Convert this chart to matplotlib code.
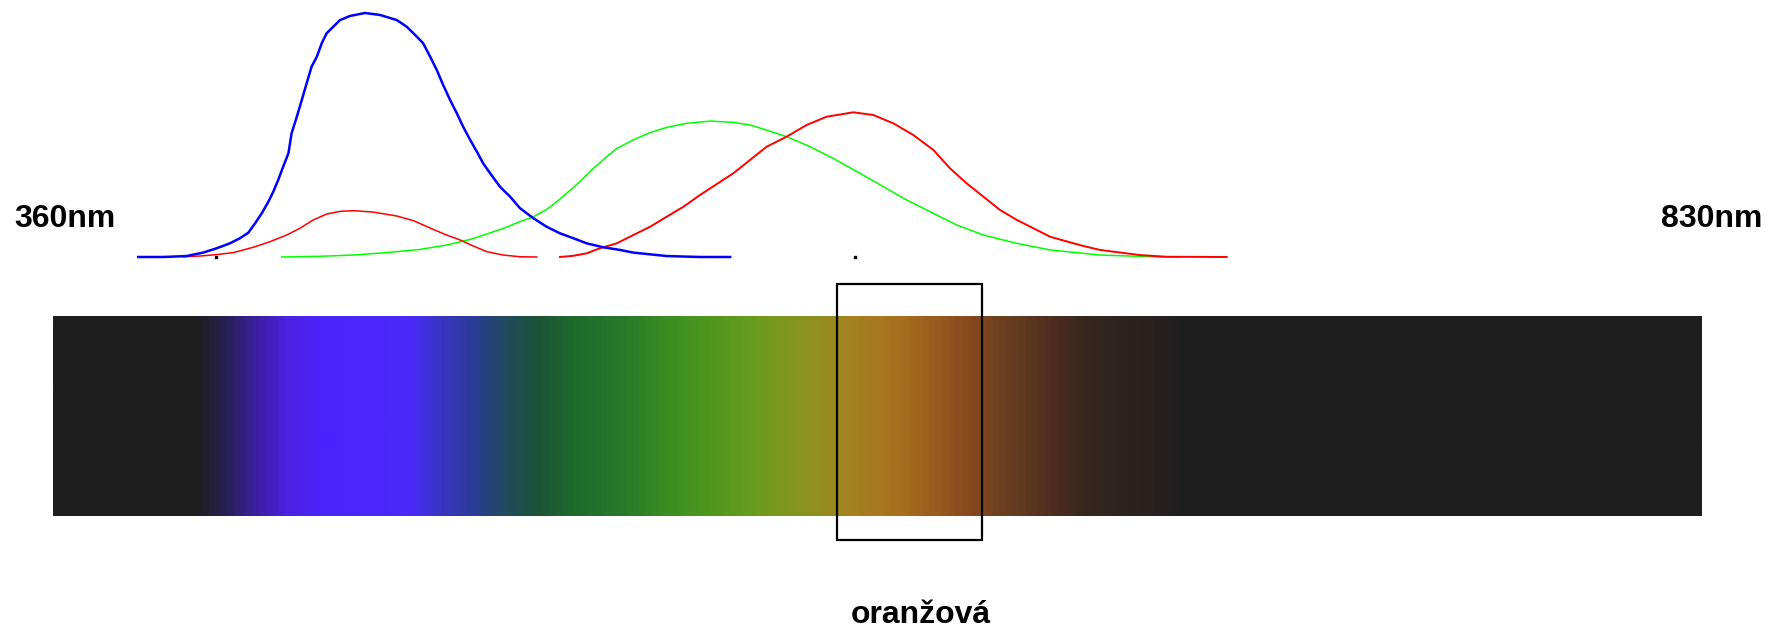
#!/usr/bin/env python
# -*- coding: utf-8 -*-

import numpy as np
import matplotlib
matplotlib.use("Agg")
import matplotlib.pyplot as plt
from matplotlib.colors import LinearSegmentedColormap, Normalize
from matplotlib.patches import Rectangle

plt.rcParams['font.family'] = ['Liberation Sans', 'DejaVu Sans']

# vlnove delky (nm) a relativni citlivost cipku
blue_nm = [384.3, 391.4, 398.1, 402.8, 406.7, 410.4, 413.3, 415.7, 417.6, 419.5,
           421.4, 422.8, 424.2, 425.6, 427.1, 428.0, 429.5, 430.9, 432.3, 433.7,
           435.2, 436.6, 438.0, 439.9, 441.8, 444.7, 448.9, 453.2, 458.0, 460.8,
           463.7, 465.5, 467.5, 469.4, 471.2, 473.2, 475.1, 476.9, 478.9, 480.8,
           482.6, 484.6, 487.4, 490.3, 493.1, 496.9, 500.7, 504.5, 508.3, 512.1,
           516.8, 521.6, 525.4, 534.9, 544.4, 553.0]
blue_val = [0.0, 0.0, 0.004, 0.018, 0.036, 0.056, 0.077, 0.100, 0.138, 0.179,
            0.227, 0.268, 0.316, 0.370, 0.425, 0.507, 0.575, 0.643, 0.712, 0.780,
            0.821, 0.876, 0.917, 0.944, 0.971, 0.988, 1.0, 0.992, 0.971, 0.944,
            0.903, 0.876, 0.821, 0.766, 0.705, 0.643, 0.589, 0.534, 0.480, 0.432,
            0.384, 0.343, 0.288, 0.247, 0.200, 0.159, 0.124, 0.097, 0.077, 0.056,
            0.040, 0.029, 0.018, 0.004, 0.0, 0.0]

red_low_nm = [397.1, 401.9, 406.7, 411.4, 417.1, 421.9, 426.6, 430.4, 434.2,
              438.0, 441.8, 445.6, 451.3, 458.0, 462.7, 468.4, 472.2, 476.0,
              479.8, 483.6, 488.3, 493.1, 497.9]
red_low_val = [0.001, 0.004, 0.010, 0.018, 0.040, 0.063, 0.090, 0.118, 0.152,
               0.176, 0.187, 0.190, 0.184, 0.168, 0.149, 0.113, 0.090, 0.070,
               0.045, 0.022, 0.008, 0.001, 0.0]

red_nm = [504.5, 508.3, 512.1, 515.9, 520.7, 525.4, 530.2, 534.9, 539.7, 544.4,
          549.2, 553.9, 558.7, 563.4, 569.1, 574.8, 580.5, 588.1, 593.8, 599.5,
          605.2, 610.9, 615.7, 620.4, 625.2, 629.9, 634.7, 639.4, 644.2, 648.9,
          653.7, 658.4, 663.2, 669.8, 677.4, 694.5]
red_val = [0.0, 0.005, 0.015, 0.036, 0.056, 0.090, 0.124, 0.165, 0.206, 0.254,
           0.299, 0.343, 0.398, 0.452, 0.493, 0.541, 0.575, 0.593, 0.582, 0.548,
           0.500, 0.439, 0.363, 0.302, 0.247, 0.193, 0.152, 0.118, 0.083, 0.064,
           0.045, 0.029, 0.020, 0.008, 0.001, 0.0]

green_nm = [425.2, 436.1, 445.6, 455.1, 464.6, 472.2, 478.9, 483.6, 488.3, 493.1,
            496.9, 500.7, 503.6, 506.4, 510.2, 514.0, 517.8, 520.7, 525.4, 530.2,
            534.9, 540.6, 547.3, 553.9, 558.7, 563.4, 569.1, 575.8, 582.4, 590.0,
            596.7, 603.3, 610.9, 617.6, 625.2, 634.7, 644.2, 653.7, 658.4, 675.5,
            681.2]
green_val = [0.0, 0.003, 0.008, 0.018, 0.031, 0.049, 0.072, 0.094, 0.117, 0.145,
             0.165, 0.195, 0.227, 0.261, 0.309, 0.363, 0.411, 0.445, 0.480, 0.510,
             0.531, 0.548, 0.557, 0.552, 0.541, 0.520, 0.493, 0.452, 0.404, 0.343,
             0.288, 0.234, 0.179, 0.131, 0.090, 0.056, 0.029, 0.015, 0.008, 0.0,
             0.0]

tick_marks_nm = [406.5, 588.6]

# barvy spektra
spectrum_nm = [360, 400, 408, 417, 426, 436, 461, 469, 479, 488, 498, 508, 522,
               536, 545, 560, 573, 582, 587, 596, 604, 613, 618.5, 624, 630,
               636, 645, 656, 670, 684, 830]
spectrum_colors = ['#1e1e1e', '#1e1e1e', '#26204f', '#3a1fa0', '#4a22e0',
                   '#4a24ff', '#4a28fa', '#3a35c8', '#2c3b98', '#214a60',
                   '#1b5438', '#1f6a2c', '#27792a', '#3e8e22', '#4a961e',
                   '#6a9c1d', '#8a941f', '#9a8a20', '#a4821f', '#a9771f',
                   '#a46c1f', '#96591e', '#8a4d1e', '#82471e', '#6e3f20',
                   '#613a20', '#4e2d1f', '#35261e', '#2a2220', '#1e1e1e',
                   '#1e1e1e']

wl_min, wl_max = 360, 830
orange_nm = (583.5, 624.8)

W, H = 1780, 628


def main():
    fig = plt.figure(figsize=(W / 100, H / 100), dpi=100)
    fig.patch.set_facecolor('white')

    left = 53 / W
    width = 1649 / W

    # krivky citlivosti
    ax = fig.add_axes([left, (H - 270) / H, width, 270 / H])
    ax.plot(green_nm, green_val, color='#00ff00', lw=1.1)
    ax.plot(red_low_nm, red_low_val, color='#ff0000', lw=1.1)
    ax.plot(red_nm, red_val, color='#ff0000', lw=1.4)
    ax.plot(blue_nm, blue_val, color='#0000ff', lw=1.8)
    ax.plot(tick_marks_nm, [0.0] * len(tick_marks_nm), 's', color='black', ms=2)
    ax.set_xlim(wl_min, wl_max)
    ax.set_ylim(-13 / 244, 257 / 244)
    ax.axis('off')

    # spektrum
    ax2 = fig.add_axes([left, (H - 516) / H, width, 200 / H])
    cmap = LinearSegmentedColormap.from_list(
        'spec',
        list(zip([(v - wl_min) / (wl_max - wl_min) for v in spectrum_nm],
                 spectrum_colors)))
    grad = np.linspace(wl_min, wl_max, 1200)[None, :]
    ax2.imshow(grad, cmap=cmap, norm=Normalize(wl_min, wl_max), aspect='auto',
               extent=(wl_min, wl_max, 0, 1), interpolation='bilinear')
    ax2.add_patch(Rectangle((orange_nm[0], -24 / 200),
                            orange_nm[1] - orange_nm[0], 256 / 200,
                            fill=False, edgecolor='black', lw=1.6,
                            clip_on=False))
    ax2.set_xlim(wl_min, wl_max)
    ax2.set_ylim(0, 1)
    ax2.axis('off')

    fig.text(14 / W, 1 - 227 / H, '%dnm' % wl_min, fontsize=23,
             fontweight='bold', ha='left', va='baseline')
    fig.text(1762 / W, 1 - 227 / H, '%dnm' % wl_max, fontsize=23,
             fontweight='bold', ha='right', va='baseline')
    fig.text(921 / W, 1 - 623 / H, 'oranžová', fontsize=23,
             fontweight='bold', ha='center', va='baseline')

    fig.savefig('out.png', dpi=100, facecolor='white')


if __name__ == '__main__':
    main()
